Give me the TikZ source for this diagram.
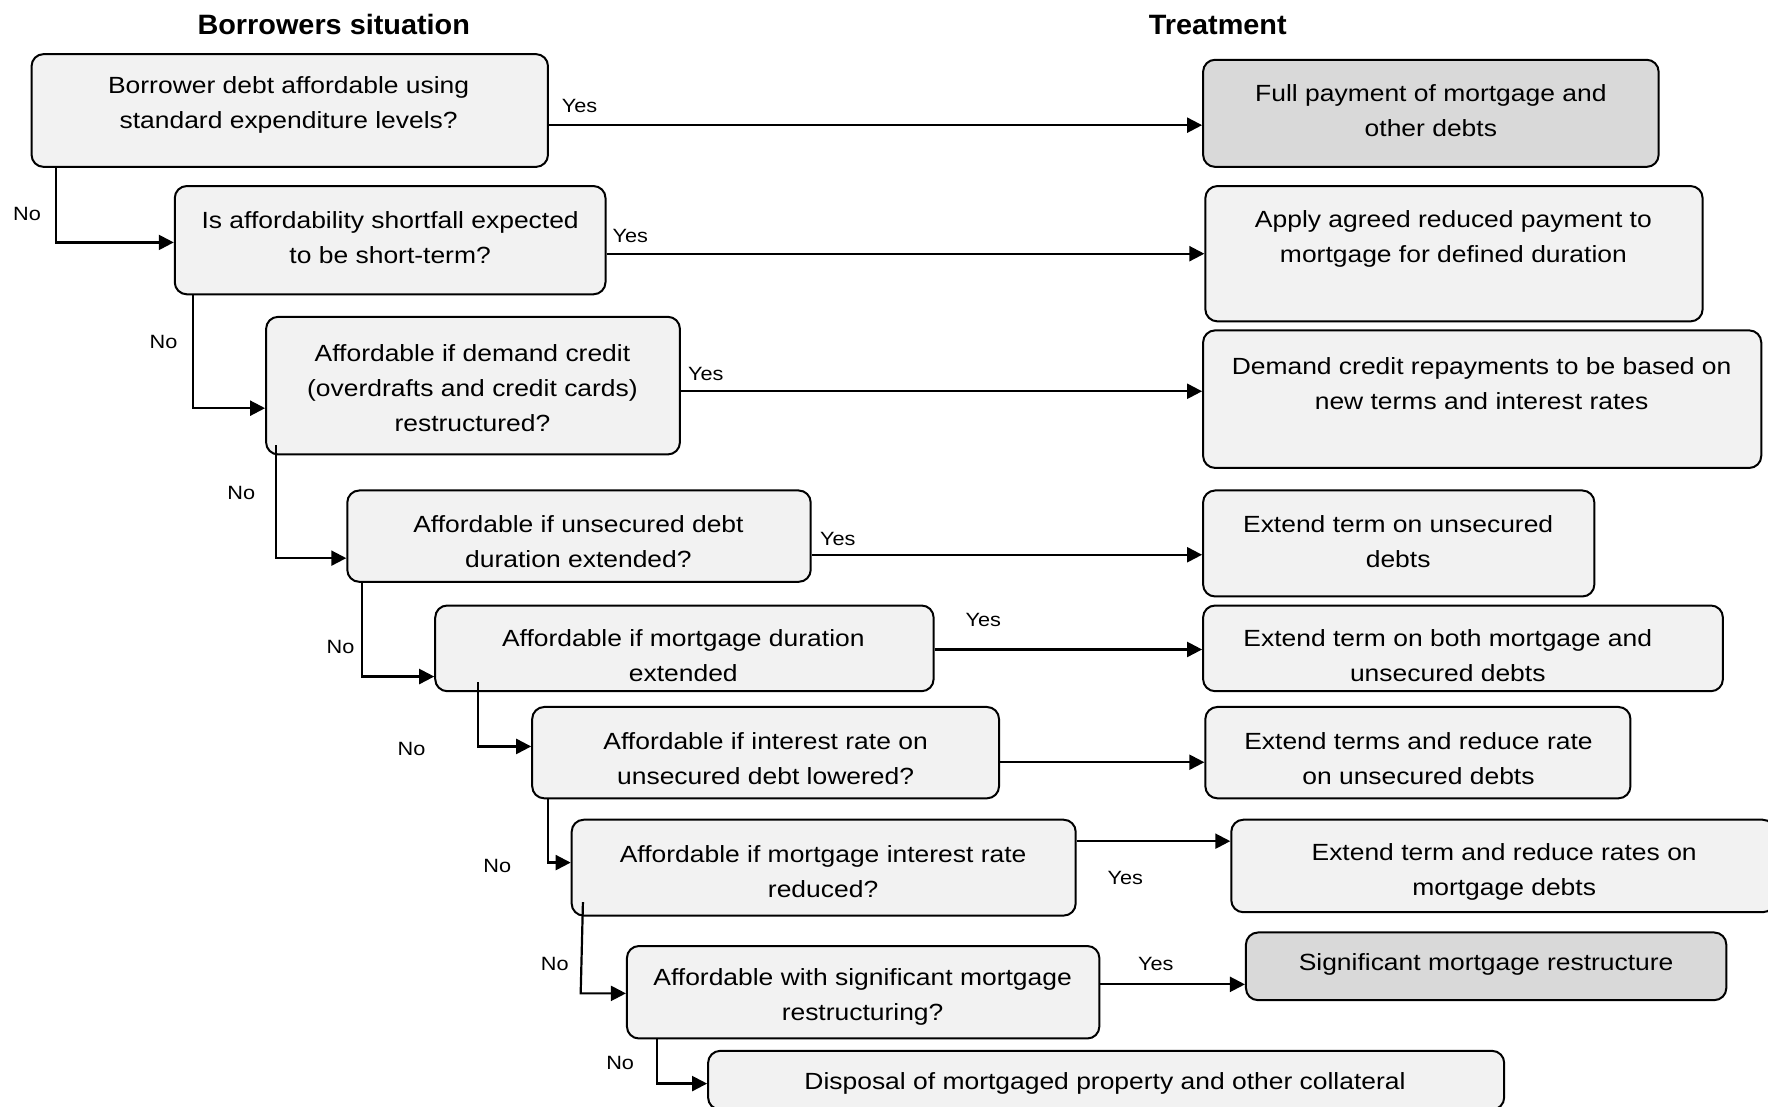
\documentclass[tikz,border=0pt]{standalone}
\usepackage{fontspec}
\setmainfont{Liberation Sans}[FakeStretch=1.13]
\newfontfamily\titlefont{Liberation Sans}[FakeStretch=1.03]
\usetikzlibrary{arrows.meta,fit}
\definecolor{lightbox}{HTML}{F2F2F2}
\definecolor{darkbox}{HTML}{D9D9D9}
\begin{document}
\begin{tikzpicture}[x=0.5638pt,y=-0.5638pt,
  box/.style={draw=black, line width=1pt, rounded corners=6pt, fill=lightbox, inner sep=0pt},
  darkb/.style={box, fill=darkbox},
  txt/.style={align=center, font=\fontsize{11.7}{17.5}\selectfont, inner sep=0pt, yshift=-1.4pt},
  lbl/.style={font=\fontsize{9.6}{11}\selectfont, inner sep=0pt},
  arr/.style={line width=1.1pt, -{Triangle[length=7.5pt,width=7.5pt]}},
  ttl/.style={font=\titlefont\bfseries\fontsize{14}{16}\selectfont, inner sep=0pt}]
\useasboundingbox (0,0) rectangle (1568,981);

% titles
\node[ttl] (h1) at (296,22) {Borrowers situation};
\node[ttl] (h2) at (1080,22) {Treatment};

% left boxes
\node[box, fit={(28,48) (486,148)}] (b1) {};
\node[box, fit={(155,165) (537,261)}] (b2) {};
\node[box, fit={(236,281) (603,403)}] (b3) {};
\node[box, fit={(308,435) (719,516)}] (b4) {};
\node[box, fit={(386,537) (828,613)}] (b5) {};
\node[box, fit={(472,627) (886,708)}] (b6) {};
\node[box, fit={(507,727) (954,812)}] (b7) {};
\node[box, fit={(556,839) (975,921)}] (b8) {};
\node[box, fit={(628,932) (1334,984)}] (b9) {};

% right boxes
\node[darkb, fit={(1067,53) (1471,148)}] (r1) {};
\node[box, fit={(1069,165) (1510,285)}] (r2) {};
\node[box, fit={(1067,293) (1562,415)}] (r3) {};
\node[box, fit={(1067,435) (1414,529)}] (r4) {};
\node[box, fit={(1067,537) (1528,613)}] (r5) {};
\node[box, fit={(1069,627) (1446,708)}] (r6) {};
\node[box, fit={(1092,727) (1574,809)}] (r7) {};
\node[darkb, fit={(1105,827) (1531,887)}] (r8) {};

% texts left
\node[txt] (t1) at (256,91) {Borrower debt affordable using\\standard expenditure levels?};
\node[txt] (t2) at (346,208.5) {Is affordability shortfall expected\\to be short-term?};
\node[txt] (t3) at (419,342) {Affordable if demand credit\\(overdrafts and credit cards)\\restructured?};
\node[txt] (t4) at (513,477.5) {Affordable if unsecured debt\\duration extended?};
\node[txt] (t5) at (606,579) {Affordable if mortgage duration\\extended};
\node[txt] (t6) at (679,670) {Affordable if interest rate on\\unsecured debt lowered?};
\node[txt] (t7) at (730,770.5) {Affordable if mortgage interest rate\\reduced?};
\node[txt] (t8) at (765,882) {Affordable with significant mortgage\\restructuring?};
\node[txt] (t9) at (980,958) {Disposal of mortgaged property and other collateral};

% texts right
\node[txt] (s1) at (1269,95.5) {Full payment of mortgage and\\other debts};
\node[txt] (s2) at (1289,209.5) {Apply agreed reduced payment to\\mortgage for defined duration};
\node[txt] (s3) at (1314,337.5) {Demand credit repayments to be based on\\new terms and interest rates};
\node[txt] (s4) at (1240,478) {Extend term on unsecured\\debts};
\node[txt] (s5) at (1284,579) {Extend term on both mortgage and\\unsecured debts};
\node[txt] (s6) at (1258,670) {Extend terms and reduce rate\\on unsecured debts};
\node[txt] (s7) at (1334,770.5) {Extend term and reduce rates on\\mortgage debts};
\node[txt] (s8) at (1318,853) {Significant mortgage restructure};

% Yes connectors
\draw[arr] (b1.east |- 0,111) -- (r1.west |- 0,111);
\draw[arr] (b2.east |- 0,225) -- (r2.west |- 0,225);
\draw[arr] (b3.east |- 0,347) -- (r3.west |- 0,347);
\draw[arr] (b4.east |- 0,492) -- (r4.west |- 0,492);
\draw[arr] (b5.east |- 0,576) -- (r5.west |- 0,576);
\draw[arr] (b6.east |- 0,676) -- (r6.west |- 0,676);
\draw[arr] (b7.east |- 0,746) -- (r7.west |- 0,746);
\draw[arr] (b8.east |- 0,873) -- (r8.west |- 0,873);

\node[lbl] (y1) at (514,94) {Yes};
\node[lbl] (y2) at (559,209) {Yes};
\node[lbl] (y3) at (626,332) {Yes};
\node[lbl] (y4) at (743,478) {Yes};
\node[lbl] (y5) at (872,550) {Yes};
\node[lbl] (y7) at (998,779) {Yes};
\node[lbl] (y8) at (1025,855) {Yes};

% No connectors
\coordinate (n3s) at (245,395);
\coordinate (n5s) at (424,605);
\coordinate (n7s) at (517,800);
\coordinate (n7b) at (515,881);
\draw[arr] (b1.south -| 50,0) |- (b2.west |- 0,215);
\draw[arr] (b2.south -| 171,0) |- (b3.west |- 0,362);
\draw[arr] (n3s) |- (b4.west |- 0,495);
\draw[arr] (b4.south -| 321,0) |- (b5.west |- 0,600);
\draw[arr] (n5s) |- (b6.west |- 0,662);
\draw[arr] (b6.south -| 486,0) |- (b7.west |- 0,765);
\draw[arr] (n7s) -- (n7b) -- (b8.west |- n7b);
\draw[arr] (b8.south -| 583,0) |- (b9.west |- 0,961);

\node[lbl] (o1) at (24,190) {No};
\node[lbl] (o2) at (145,303) {No};
\node[lbl] (o3) at (214,437) {No};
\node[lbl] (o4) at (302,574) {No};
\node[lbl] (o5) at (365,664) {No};
\node[lbl] (o6) at (441,768) {No};
\node[lbl] (o7) at (492,855) {No};
\node[lbl] (o8) at (550,943) {No};
\end{tikzpicture}
\end{document}
